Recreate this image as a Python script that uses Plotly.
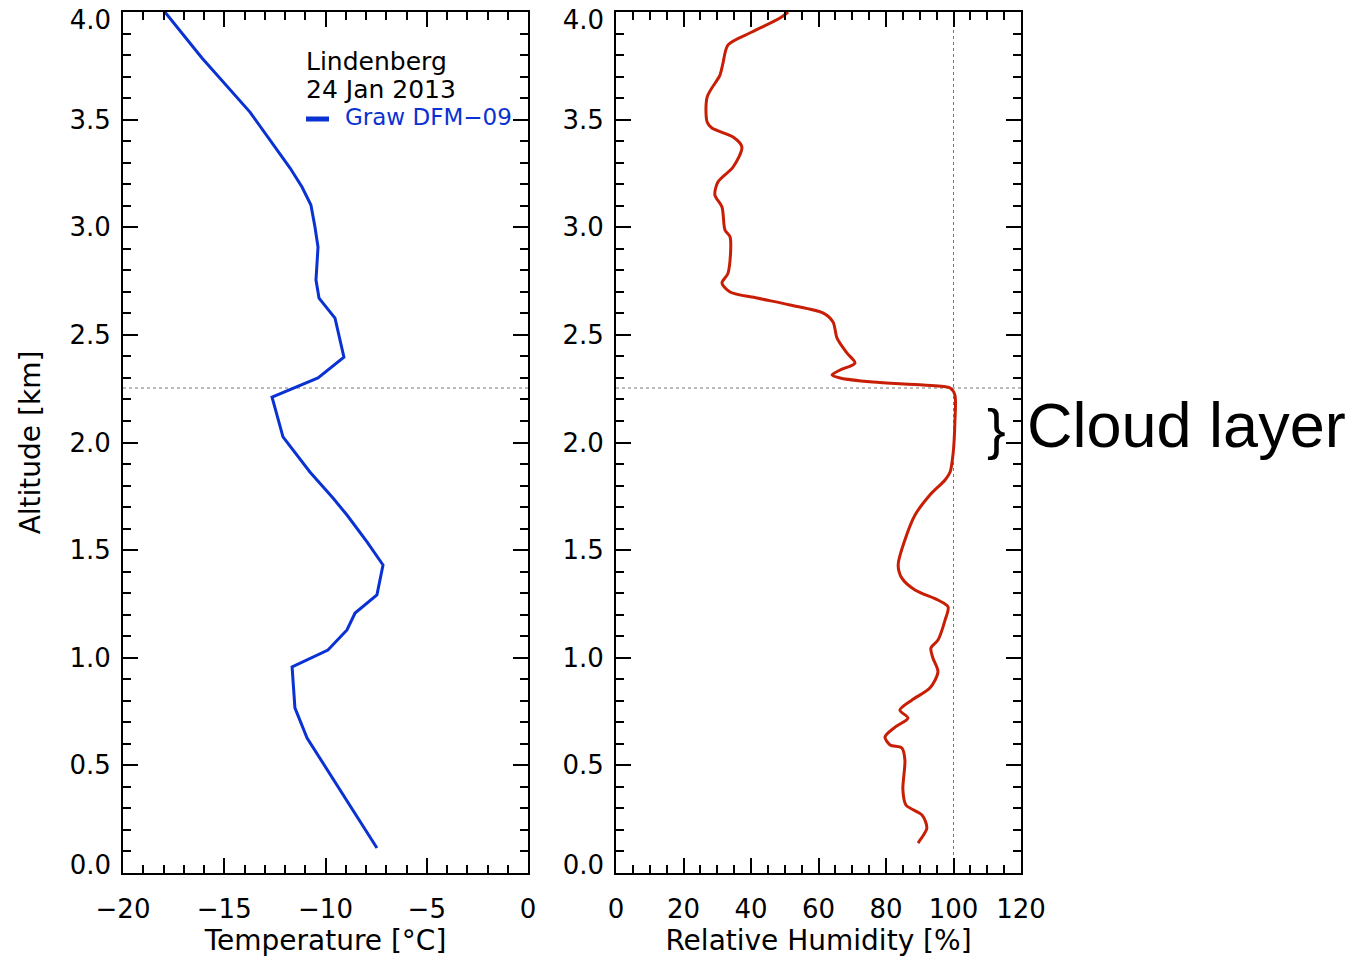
import plotly.graph_objects as go

# Radiosonde profile, Lindenberg, 24 Jan 2013 (Graw DFM-09)
temp_c = [-17.93, -16.10, -13.73, -12.40, -11.75, -11.16, -10.72, -10.52, -10.37,
          -10.47, -10.32, -9.53, -9.09, -10.37, -12.64, -12.10, -11.60, -10.77,
          -9.63, -8.94, -7.95, -7.16, -7.46, -8.54, -8.94, -9.88, -11.65, -11.51,
          -10.91, -7.46]
temp_alt_km = [4.000, 3.786, 3.535, 3.359, 3.275, 3.187, 3.103, 3.001, 2.908,
               2.755, 2.671, 2.578, 2.397, 2.300, 2.211, 2.026, 1.965, 1.863,
               1.742, 1.663, 1.538, 1.431, 1.292, 1.208, 1.129, 1.036, 0.957, 0.767,
               0.627, 0.116]

rh_pct = [51.0, 48.6, 40.3, 33.2, 31.7, 30.8, 27.0, 27.0, 28.4, 34.7, 37.3, 34.7,
          30.2, 29.3, 31.4, 32.3, 33.8, 33.2, 31.4, 33.8, 41.8, 51.6, 61.3, 64.3,
          65.5, 68.4, 70.8, 66.4, 64.0, 66.4, 76.1, 91.0, 99.0, 100.4, 100.4, 99.9,
          99.0, 97.5, 93.0, 88.6, 85.6, 83.6, 84.7, 88.6, 95.4, 98.4, 97.5, 95.4,
          93.3, 93.9, 95.4, 93.0, 87.7, 84.1, 86.5, 82.7, 79.7, 81.2, 84.7, 85.6,
          85.0, 85.9, 90.7, 92.1, 90.1, 89.5]
rh_alt_km = [4.000, 3.972, 3.907, 3.847, 3.763, 3.707, 3.605, 3.489, 3.461, 3.419,
             3.373, 3.280, 3.210, 3.150, 3.094, 2.987, 2.955, 2.787, 2.741, 2.699,
             2.671, 2.639, 2.602, 2.560, 2.485, 2.416, 2.369, 2.337, 2.314, 2.300,
             2.281, 2.267, 2.253, 2.221, 2.091, 1.951, 1.863, 1.826, 1.756, 1.663,
             1.547, 1.431, 1.370, 1.315, 1.268, 1.236, 1.175, 1.082, 1.045, 0.999,
             0.934, 0.859, 0.804, 0.757, 0.720, 0.678, 0.632, 0.595, 0.581, 0.525,
             0.386, 0.316, 0.269, 0.209, 0.153, 0.139]

alt_ticks = [0, 0.5, 1, 1.5, 2, 2.5, 3, 3.5, 4]
temp_ticks = [-20, -15, -10, -5, 0]
rh_ticks = [0, 20, 40, 60, 80, 100, 120]
alt_range = [0, 4]

cloud_top_km = 2.253
saturation_rh = 100

W, H = 1367, 961
ML, MR, MT, MB = 0, 0, 12, 88

def px(x):
    return (x - ML) / (W - ML - MR)

def py(y):
    return (H - MB - y) / (H - MT - MB)

BLUE = "#0a32d2"
RED = "#c81e05"
FONT = "DejaVu Sans"
tick_font = dict(family=FONT, size=26, color="black")
title_font = dict(family=FONT, size=28, color="black")

fig = go.Figure()
fig.add_trace(go.Scatter(x=temp_c, y=temp_alt_km, mode="lines",
                         line=dict(color=BLUE, width=3), xaxis="x", yaxis="y",
                         showlegend=False))
fig.add_trace(go.Scatter(x=rh_pct, y=rh_alt_km, mode="lines",
                         line=dict(color=RED, width=3, shape="spline", smoothing=0.8),
                         xaxis="x2", yaxis="y2", showlegend=False))

# empty traces that register the label-only altitude overlays on each panel
for xa, ya in [("x", "y3"), ("x", "y4"), ("x2", "y5"), ("x2", "y6")]:
    fig.add_trace(go.Scatter(x=[], y=[], mode="lines", xaxis=xa, yaxis=ya,
                             showlegend=False, hoverinfo="skip"))

def frame_axis(**kw):
    d = dict(showline=True, linecolor="black", linewidth=2, mirror="ticks",
             ticks="inside", ticklen=15, tickwidth=2, tickcolor="black",
             showgrid=False, zeroline=False, automargin=False,
             ticklabeloverflow="allow", tickfont=tick_font)
    d.update(kw)
    return d

def end_label_axis(base, anchor, val, shift):
    # label-only overlay so the end labels of the altitude scale sit just inside the frame
    return dict(overlaying=base, anchor=anchor, side="left", range=alt_range,
                tickvals=[val], tickformat=".1f", ticks="", showline=False,
                showgrid=False, zeroline=False, automargin=False,
                ticklabeloverflow="allow", ticklabelstandoff=11,
                ticklabelshift=shift, tickfont=tick_font)

mid_alt_ticks = alt_ticks[1:-1]
mid_text = [""] + [f"{v:.1f}" for v in mid_alt_ticks] + [""]

fig.update_layout(
    width=W, height=H,
    margin=dict(l=ML, r=MR, t=MT, b=MB, pad=0, autoexpand=False),
    paper_bgcolor="white", plot_bgcolor="white",
    xaxis=frame_axis(domain=[123 / W, 528 / W], range=[-20, 0], anchor="y",
                     tickvals=temp_ticks, ticklabelstandoff=12,
                     minor=dict(dtick=1, ticklen=8, ticks="inside", tickwidth=2,
                                tickcolor="black"),
                     title=dict(text="Temperature [°C]", standoff=4, font=title_font)),
    yaxis=frame_axis(domain=[0, 1], range=alt_range, anchor="x",
                     tickvals=alt_ticks, ticktext=mid_text, ticklabelstandoff=5,
                     minor=dict(dtick=0.1, ticklen=8, ticks="inside", tickwidth=2,
                                tickcolor="black"),
                     title=dict(text="Altitude [km]", standoff=21, font=title_font)),
    xaxis2=frame_axis(domain=[616 / W, 1021 / W], range=[0, 120], anchor="y2",
                      tickvals=rh_ticks, ticklabelstandoff=12,
                      minor=dict(dtick=5, ticklen=8, ticks="inside", tickwidth=2,
                                 tickcolor="black"),
                      title=dict(text="Relative Humidity [%]", standoff=4,
                                 font=title_font)),
    yaxis2=frame_axis(domain=[0, 1], range=alt_range, anchor="x2",
                      tickvals=alt_ticks, ticktext=mid_text, ticklabelstandoff=5,
                      minor=dict(dtick=0.1, ticklen=8, ticks="inside", tickwidth=2,
                                 tickcolor="black")),
    yaxis3=end_label_axis("y", "x", alt_ticks[0], -8),
    yaxis4=end_label_axis("y", "x", alt_ticks[-1], 8),
    yaxis5=end_label_axis("y2", "x2", alt_ticks[0], -8),
    yaxis6=end_label_axis("y2", "x2", alt_ticks[-1], 8),
)

# Cloud-top marker across both panels, saturation line on the humidity panel
dotted = dict(color="#777777", width=1, dash="dot")
fig.add_shape(type="line", xref="x domain", yref="y", x0=0, x1=1,
              y0=cloud_top_km, y1=cloud_top_km, line=dotted, layer="below")
fig.add_shape(type="line", xref="x2 domain", yref="y2", x0=0, x1=1,
              y0=cloud_top_km, y1=cloud_top_km, line=dotted, layer="below")
fig.add_shape(type="line", xref="x2", yref="y2 domain", x0=saturation_rh,
              x1=saturation_rh, y0=0, y1=1, line=dotted, layer="below")

# Station / date header and instrument key
fig.add_annotation(x=px(304), y=py(62), xref="paper", yref="paper", text="Lindenberg",
                   showarrow=False, xanchor="left", yanchor="middle",
                   font=dict(family=FONT, size=25, color="black"))
fig.add_annotation(x=px(304), y=py(89), xref="paper", yref="paper", text="24 Jan 2013",
                   showarrow=False, xanchor="left", yanchor="middle",
                   font=dict(family=FONT, size=25, color="black"))
fig.add_shape(type="line", xref="paper", yref="paper", x0=px(306), x1=px(329),
              y0=py(119), y1=py(119), line=dict(color=BLUE, width=5))
fig.add_annotation(x=px(343), y=py(117), xref="paper", yref="paper", text="Graw DFM\u221209",
                   showarrow=False, xanchor="left", yanchor="middle",
                   font=dict(family=FONT, size=23, color=BLUE))

# Cloud layer label
fig.add_annotation(x=px(996), y=py(428), xref="paper", yref="paper", text="}",
                   showarrow=False, xanchor="center", yanchor="middle",
                   font=dict(family="Liberation Sans", size=56, color="black"))
fig.add_annotation(x=px(1025), y=py(425), xref="paper", yref="paper", text="Cloud layer",
                   showarrow=False, xanchor="left", yanchor="middle",
                   font=dict(family="Liberation Sans", size=63, color="black"))

fig.write_html("out.html")
